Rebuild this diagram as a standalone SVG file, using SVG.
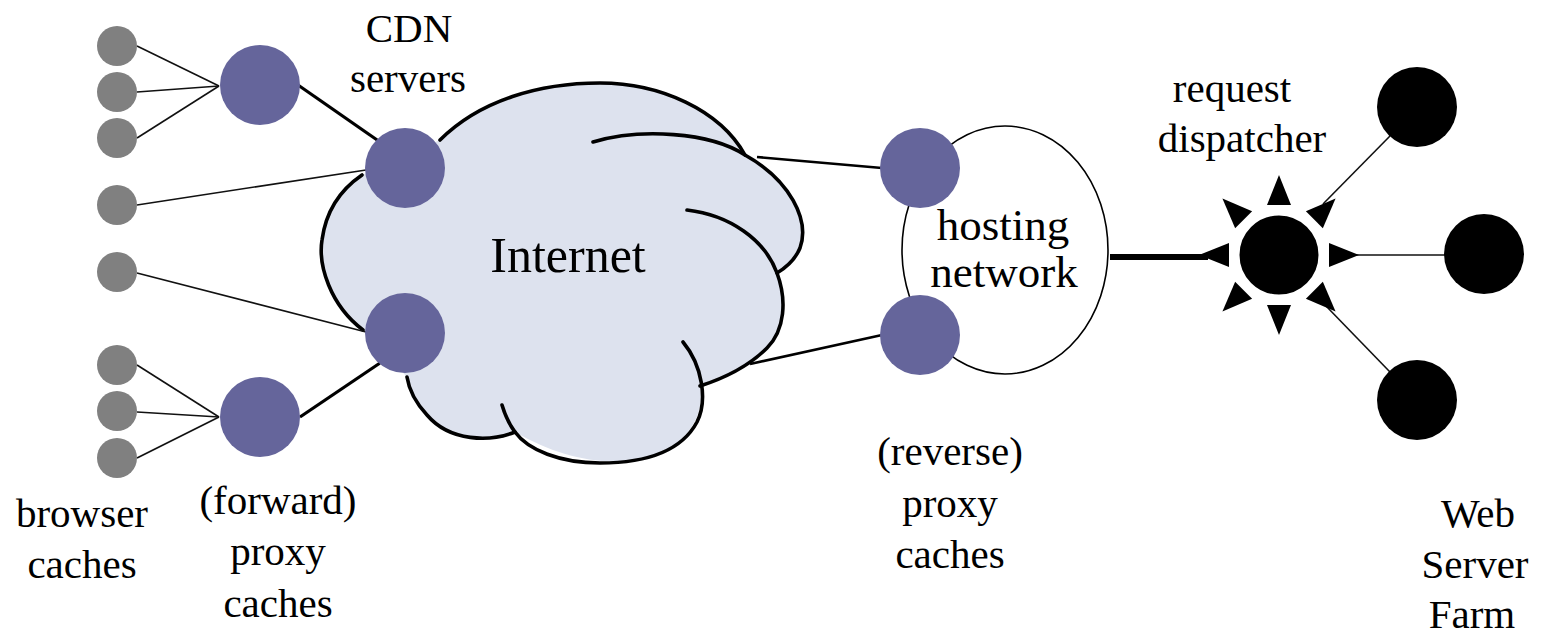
<svg xmlns="http://www.w3.org/2000/svg" width="1543" height="634" viewBox="0 0 1543 634">
<style>
text{font-family:'Liberation Serif','DejaVu Serif','Times New Roman',serif;fill:#000;text-anchor:middle}
.lbl{font-size:41px}
.cache{fill:#808080}
.proxy{fill:#65659b}
.srv{fill:#000}
.thin{stroke:#111;stroke-width:1.6;fill:none}
.med{stroke:#000;stroke-width:2.6;fill:none}
.thick{stroke:#000;stroke-width:3.2;fill:none}
.cl{stroke:#000;stroke-width:3.6;fill:none;stroke-linecap:round}
.tri{fill:#000}
</style>
<rect width="1543" height="634" fill="#fff"/>
<g id="cloud" font-family="Liberation Serif, DejaVu Serif, serif">
<path fill="#dde2ee" d="M362,175 L440,140 C480,100 540,83 600,83 C660,83 720,110 745,155 C790,180 810,220 800,248 C795,260 787,267 777,273 C787,300 785,330 767,348 C750,365 725,378 700,386 C706,420 682,450 640,459 C600,467 555,455 517,433 C490,442 450,442 427,415 C415,402 409,390 407,377 L363,330 C330,305 318,265 322,240 C326,210 340,190 362,175 Z"/>
<path class="cl" d="M363,330 C330,305 318,265 322,240 C326,210 340,190 362,175"/>
<path class="cl" d="M440,140 C480,100 540,83 600,83 C660,83 720,110 745,155"/>
<path class="cl" d="M593,142 C640,128 710,132 745,155 C790,180 810,220 800,248 C795,260 787,267 777,273"/>
<path class="cl" d="M687,210 C730,215 765,240 777,273 C787,300 785,330 767,348 C750,365 725,378 700,386"/>
<path class="cl" d="M683,342 C702,365 708,400 697,422 C682,450 650,463 600,463 C560,463 528,450 515,432 C509,424 505,415 502,405"/>
<path class="cl" d="M515,432 C490,442 450,442 427,415 C415,402 409,390 407,377"/>
<text x="568" y="272" font-family="Liberation Serif, DejaVu Serif, serif" style="font-size:50px">Internet</text>
</g>
<g id="hosting-network" font-family="Liberation Serif, DejaVu Serif, serif">
<ellipse cx="1005" cy="250" rx="103" ry="124" fill="#fff" stroke="#000" stroke-width="1.6"/>
<text x="1003" y="240" style="font-size:45px">hosting</text>
<text x="1004" y="287" style="font-size:45px">network</text>
</g>
<g id="connectors">
<line class="thin" x1="137" y1="46" x2="219" y2="86"/>
<line class="thin" x1="137" y1="92" x2="219" y2="86"/>
<line class="thin" x1="137" y1="138" x2="219" y2="86"/>
<line class="thin" x1="137" y1="205" x2="366" y2="170"/>
<line class="thin" x1="137" y1="273" x2="366" y2="332"/>
<line class="thin" x1="137" y1="365" x2="219" y2="417"/>
<line class="thin" x1="137" y1="412" x2="219" y2="417"/>
<line class="thin" x1="137" y1="458" x2="219" y2="417"/>
<line class="thick" x1="298" y1="85" x2="380" y2="142"/>
<line class="thick" x1="300" y1="417" x2="380" y2="363"/>
<line class="med" x1="757" y1="157" x2="882" y2="168"/>
<line class="med" x1="750" y1="364" x2="882" y2="335"/>
<line x1="1110" y1="257" x2="1208" y2="257" stroke="#000" stroke-width="6"/>
<line class="thin" x1="1390" y1="136" x2="1323" y2="204" stroke="#333"/>
<line class="thin" x1="1355" y1="255" x2="1446" y2="255" stroke="#333"/>
<line class="thin" x1="1326" y1="306" x2="1390" y2="372" stroke="#333"/>
</g>
<g id="browser-caches" font-family="Liberation Serif, DejaVu Serif, serif">
<circle class="cache" cx="117" cy="46" r="20"/>
<circle class="cache" cx="117" cy="92" r="20"/>
<circle class="cache" cx="117" cy="138" r="20"/>
<circle class="cache" cx="117" cy="205" r="20"/>
<circle class="cache" cx="117" cy="272" r="20"/>
<circle class="cache" cx="117" cy="365" r="20"/>
<circle class="cache" cx="117" cy="411" r="20"/>
<circle class="cache" cx="117" cy="458" r="20"/>
<text class="lbl" x="82" y="527">browser</text>
<text class="lbl" x="82" y="578">caches</text>
</g>
<g id="forward-proxies" font-family="Liberation Serif, DejaVu Serif, serif">
<circle class="proxy" cx="260" cy="85" r="40"/>
<circle class="proxy" cx="260" cy="417" r="40"/>
<text class="lbl" x="278" y="514">(forward)</text>
<text class="lbl" x="278" y="565">proxy</text>
<text class="lbl" x="278" y="617">caches</text>
</g>
<g id="cdn-servers" font-family="Liberation Serif, DejaVu Serif, serif">
<circle class="proxy" cx="405" cy="168" r="40"/>
<circle class="proxy" cx="405" cy="333" r="40"/>
<text class="lbl" x="409" y="42">CDN</text>
<text class="lbl" x="408" y="92">servers</text>
</g>
<g id="reverse-proxies" font-family="Liberation Serif, DejaVu Serif, serif">
<circle class="proxy" cx="920" cy="168" r="40"/>
<circle class="proxy" cx="920" cy="335" r="40"/>
<text class="lbl" x="950" y="465">(reverse)</text>
<text class="lbl" x="950" y="517">proxy</text>
<text class="lbl" x="950" y="568">caches</text>
</g>
<g id="request-dispatcher" font-family="Liberation Serif, DejaVu Serif, serif">
<circle cx="1279" cy="255" r="41" fill="#000" stroke="#fff" stroke-width="3"/>
<g transform="translate(1279,255)">
<polygon class="tri" points="0,-80 -12,-50 12,-50"/>
<polygon class="tri" points="0,-80 -12,-50 12,-50" transform="rotate(45)"/>
<polygon class="tri" points="0,-80 -12,-50 12,-50" transform="rotate(90)"/>
<polygon class="tri" points="0,-80 -12,-50 12,-50" transform="rotate(135)"/>
<polygon class="tri" points="0,-80 -12,-50 12,-50" transform="rotate(180)"/>
<polygon class="tri" points="0,-80 -12,-50 12,-50" transform="rotate(225)"/>
<polygon class="tri" points="0,-80 -12,-50 12,-50" transform="rotate(270)"/>
<polygon class="tri" points="0,-80 -12,-50 12,-50" transform="rotate(315)"/>
</g>
<text class="lbl" x="1232" y="102">request</text>
<text class="lbl" x="1242" y="152">dispatcher</text>
</g>
<g id="web-server-farm" font-family="Liberation Serif, DejaVu Serif, serif">
<circle class="srv" cx="1417" cy="107" r="40"/>
<circle class="srv" cx="1484" cy="254" r="40"/>
<circle class="srv" cx="1417" cy="400" r="40"/>
<text class="lbl" x="1478" y="527">Web</text>
<text class="lbl" x="1475" y="578">Server</text>
<text class="lbl" x="1472" y="628">Farm</text>
</g>
</svg>
